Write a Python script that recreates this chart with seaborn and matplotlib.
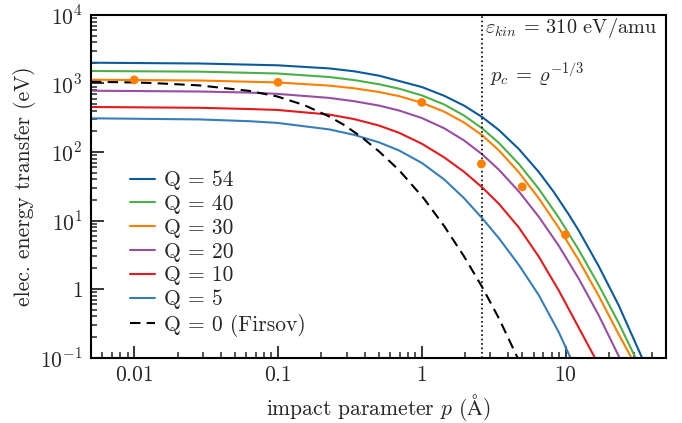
import numpy as np
import pandas as pd
import matplotlib
matplotlib.use("Agg")
import matplotlib.pyplot as plt
import matplotlib.ticker as mticker
import seaborn as sns

# ---- data ----
p_q54 = [0.005, 0.0284, 0.099, 0.227, 0.339, 0.505, 1.0, 1.429, 1.967, 2.635, 3.442, 4.740,
         6.526, 8.294, 10.54, 12.37, 17.03, 23.45, 34.0]
e_q54 = [2012, 1959, 1844, 1661, 1507, 1300, 889, 663, 476, 323, 209, 110.2,
         50.9, 26.0, 12.2, 7.10, 2.15, 0.576, 0.1]

p_q40 = [0.005, 0.0284, 0.099, 0.227, 0.339, 0.505, 0.696, 1.0, 1.429, 1.967, 2.635, 3.442,
         4.740, 6.526, 8.982, 12.37, 17.03, 23.45, 30.6]
e_q40 = [1522, 1489, 1400, 1244, 1121, 975, 840, 671, 495, 341, 221, 135.3,
         66.8, 28.8, 10.97, 3.71, 1.134, 0.319, 0.1]

p_q30 = [0.005, 0.0284, 0.099, 0.227, 0.339, 0.505, 0.696, 1.0, 1.429, 1.967, 2.635, 3.442,
         4.740, 6.526, 8.982, 12.37, 17.03, 23.45, 28.7]
e_q30 = [1136, 1106, 1036, 932, 851, 751, 654, 524, 389, 270, 175.3, 105.5,
         50.4, 21.0, 7.80, 2.62, 0.793, 0.2174, 0.1]

p_q20 = [0.005, 0.0284, 0.0632, 0.099, 0.227, 0.339, 0.505, 0.696, 1.0, 1.429, 1.967, 2.635,
         3.442, 4.740, 6.526, 8.982, 12.37, 17.03, 23.7]
e_q20 = [785, 764, 737, 706, 616, 551, 476, 403, 313.5, 222.6, 147.7, 92.3,
         55.0, 26.5, 11.3, 4.27, 1.409, 0.413, 0.1]

p_q10 = [0.005, 0.0284, 0.0632, 0.099, 0.227, 0.339, 0.505, 0.696, 1.0, 1.429, 1.967, 2.635,
         3.442, 4.740, 6.526, 8.982, 12.37, 15.97]
e_q10 = [454, 442, 424, 411, 352, 302, 243, 190.7, 132.2, 83.7, 51.4, 30.4,
         17.5, 7.89, 2.95, 0.949, 0.2714, 0.1]

p_q5 = [0.005, 0.0284, 0.0632, 0.099, 0.227, 0.339, 0.505, 0.696, 1.0, 1.429, 1.967, 2.635,
        3.442, 4.740, 6.526, 8.982, 10.8]
e_q5 = [310.5, 299, 281.6, 266, 213.8, 177.7, 138.1, 105.2, 69.3, 39.9, 21.2, 10.77,
        5.50, 2.24, 0.809, 0.2333, 0.1]

p_firsov = [0.005, 0.01, 0.0128, 0.0284, 0.0632, 0.099, 0.152, 0.227, 0.289, 0.385, 0.505,
            0.696, 1.037, 1.429, 1.967, 2.623, 3.442, 4.63]
e_firsov = [1062, 1034, 1020, 938, 780, 646, 484, 330, 247, 162.3, 101.7,
            54.2, 20.8, 8.34, 3.00, 1.08, 0.372, 0.1]

p_dots = [0.01, 0.1, 1.0, 2.6, 5.0, 10.0]
e_dots = [1130, 1040, 530, 67, 31, 6.2]

p_crit = 2.61

series_labels = ["Q = 54", "Q = 40", "Q = 30", "Q = 20", "Q = 10", "Q = 5"]
series_p = [p_q54, p_q40, p_q30, p_q20, p_q10, p_q5]
series_e = [e_q54, e_q40, e_q30, e_q20, e_q10, e_q5]
colors = ["#0b5a9c", "#4daf4a", "#ff7f00", "#984ea3", "#e41a1c", "#377eb8"]
firsov_label = "Q = 0 (Firsov)"

xticks = [0.01, 0.1, 1, 10]
xticklabels = [r"$0.01$", r"$0.1$", r"$1$", r"$10$"]
yticks = [0.1, 1, 10, 100, 1000, 10000]
yticklabels = [r"$10^{-1}$", r"$1$", r"$10^{1}$", r"$10^{2}$", r"$10^{3}$", r"$10^{4}$"]

# ---- style ----
sns.set_style("ticks")
plt.rcParams["font.family"] = ["cmr10", "DejaVu Serif"]
plt.rcParams["mathtext.fontset"] = "cm"
plt.rcParams["axes.unicode_minus"] = False
plt.rcParams["axes.formatter.use_mathtext"] = True

fig = plt.figure(figsize=(6.82, 4.23), dpi=100)
ax = fig.add_axes([91 / 682, 1 - 357.5 / 423, (666 - 91) / 682, (357.5 - 15) / 423])

fs = 15.5

for lab, ps, es, c in zip(series_labels, series_p, series_e, colors):
    df = pd.DataFrame({"p": ps, "E": es})
    sns.lineplot(data=df, x="p", y="E", color=c, lw=1.5, label=lab, ax=ax)

dff = pd.DataFrame({"p": p_firsov, "E": e_firsov})
sns.lineplot(data=dff, x="p", y="E", color="black", lw=1.5, ls=(0, (5, 3)),
             label=firsov_label, ax=ax)

dfd = pd.DataFrame({"p": p_dots, "E": e_dots})
sns.scatterplot(data=dfd, x="p", y="E", color="#ff7f00", s=40, edgecolor="none",
                zorder=5, ax=ax, legend=False)

ax.axvline(p_crit, color="black", ls=":", lw=1.2)

ax.set_xscale("log")
ax.set_yscale("log")
ax.set_xlim(0.005, 50)
ax.set_ylim(0.1, 1e4)

ax.set_xticks(xticks)
ax.set_xticklabels(xticklabels)
ax.set_yticks(yticks)
ax.set_yticklabels(yticklabels)
ax.xaxis.set_minor_locator(mticker.LogLocator(base=10, subs=np.arange(2, 10), numticks=20))
ax.yaxis.set_minor_locator(mticker.LogLocator(base=10, subs=np.arange(2, 10), numticks=20))
ax.xaxis.set_minor_formatter(mticker.NullFormatter())
ax.yaxis.set_minor_formatter(mticker.NullFormatter())

ax.tick_params(which="major", direction="in", length=9, width=1.3, labelsize=fs,
               top=False, right=False, pad=6)
ax.tick_params(which="minor", direction="in", length=4.5, width=1.1,
               top=False, right=False)
for s in ax.spines.values():
    s.set_linewidth(1.5)
    s.set_color("black")

ax.set_xlabel(r"impact parameter $p$ ($\mathrm{\AA}$)", fontsize=fs, labelpad=5)
ax.set_ylabel("elec. energy transfer (eV)", fontsize=fs, labelpad=3)

ax.text(0.686, 0.962, r"$\varepsilon_{kin}$ = 310 eV/amu", transform=ax.transAxes,
        fontsize=14.6, ha="left", va="center")
ax.text(0.694, 0.825, r"$p_c$ = $\varrho^{\mathrm{-1/3}}$", transform=ax.transAxes,
        fontsize=14.8, ha="left", va="center")

leg = ax.legend(loc="center left", bbox_to_anchor=(0.068, 0.3036), frameon=False,
                fontsize=fs, borderaxespad=0, borderpad=0, handlelength=1.16,
                handletextpad=0.4, labelspacing=0.2)

fig.savefig("out.png", dpi=100)
